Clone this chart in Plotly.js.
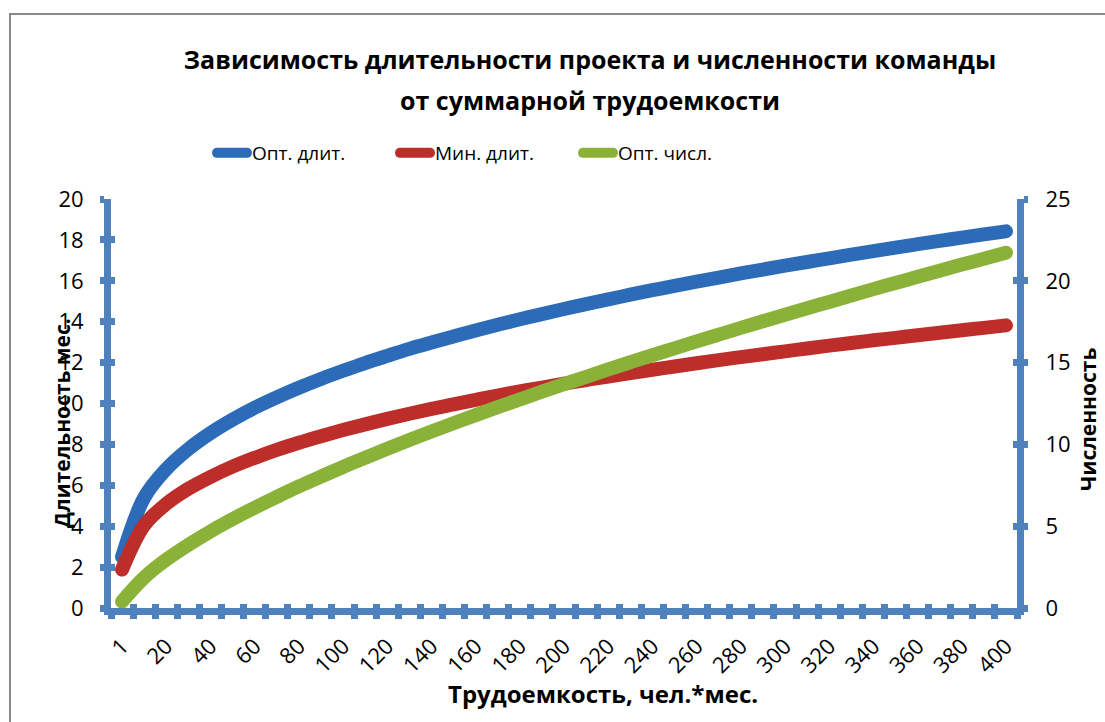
<!DOCTYPE html>
<html>
<head>
<meta charset="utf-8">
<script src="https://cdn.plot.ly/plotly-3.0.1.min.js"></script>
<style>
  html, body { margin: 0; padding: 0; background: #fff; }
  #wrap { position: relative; width: 1105px; height: 722px; overflow: hidden; }
  #chart { width: 1105px; height: 722px; }
  #frame { position: absolute; left: 9px; top: 13px; width: 1200px; height: 800px;
           border-left: 2px solid #8a8a8a; border-top: 2px solid #8a8a8a; pointer-events: none; }
  .js-line { stroke-linecap: round; stroke-linejoin: round; }
</style>
</head>
<body>
<div id="wrap"><div id="chart"></div><div id="frame"></div></div>
<script>
// Трудоемкость, чел.*мес. (categories)
const effort = ["1","10","20","30","40","50","60","70","80","90","100","110","120","130","140","150","160","170","180","190","200",
                "210","220","230","240","250","260","270","280","290","300","310","320","330","340","350","360","370","380","390","400"];
// Опт. длит. (months, left axis)
const optDur = [2.50,5.39,6.79,7.77,8.55,9.21,9.79,10.30,10.77,11.20,11.60,11.98,12.33,12.67,12.98,13.28,13.57,13.85,14.12,14.37,14.62,
                14.86,15.09,15.32,15.54,15.75,15.96,16.16,16.36,16.55,16.74,16.92,17.10,17.28,17.45,17.62,17.79,17.95,18.11,18.27,18.42];
// Мин. длит. (months, left axis)
const minDur = [1.88,4.04,5.09,5.83,6.41,6.91,7.34,7.73,8.08,8.40,8.70,8.98,9.25,9.50,9.74,9.96,10.18,10.39,10.59,10.78,10.97,
                11.15,11.32,11.49,11.65,11.81,11.97,12.12,12.27,12.41,12.55,12.69,12.83,12.96,13.09,13.21,13.34,13.46,13.58,13.70,13.82];
// Опт. числ. (people, right axis)
const optTeam = [0.40,1.86,2.95,3.86,4.68,5.43,6.13,6.79,7.43,8.03,8.62,9.18,9.73,10.27,10.79,11.29,11.79,12.28,12.75,13.22,13.68,
                 14.13,14.58,15.02,15.45,15.87,16.30,16.71,17.12,17.53,17.93,18.32,18.71,19.10,19.49,19.87,20.24,20.62,20.99,21.35,21.72];
const seriesNames = ["Опт. длит.", "Мин. длит.", "Опт. числ."];
const xLabels = effort.filter((c, i) => i % 2 === 0);
const leftTicks = [0,2,4,6,8,10,12,14,16,18,20];
const rightTicks = [0,5,10,15,20,25];
const titleLines = ["Зависимость длительности проекта и численности команды", "от суммарной трудоемкости"];

const FONT = "Open Sans, sans-serif";
const AXC = "#4f81bd";
const LW = 7;
const TL = 4;

// plot area in pixels (for placing annotations in paper units)
const W = 1105, H = 722, ML = 111, MR = 88, MT = 199, MB = 114;
const PW = W - ML - MR, PH = H - MT - MB;
const px = x => (x - ML) / PW;
const py = y => (H - MB - y) / PH;

const traces = [
  {x: effort, y: optDur, name: seriesNames[0], type: "scatter", mode: "lines",
   line: {color: "#2b6bb8", width: 14, shape: "spline", smoothing: 1}, yaxis: "y"},
  {x: effort, y: minDur, name: seriesNames[1], type: "scatter", mode: "lines",
   line: {color: "#bd2d2a", width: 14, shape: "spline", smoothing: 1}, yaxis: "y"},
  {x: effort, y: optTeam, name: seriesNames[2], type: "scatter", mode: "lines",
   line: {color: "#8bb238", width: 14, shape: "spline", smoothing: 1}, yaxis: "y2"},
  // empty helpers so the tick-only overlay axes are drawn
  {x: [], y: [], xaxis: "x2", yaxis: "y", showlegend: false, hoverinfo: "skip", type: "scatter"},
  {x: [], y: [], xaxis: "x3", yaxis: "y", showlegend: false, hoverinfo: "skip", type: "scatter"},
  {x: [], y: [], xaxis: "x", yaxis: "y3", showlegend: false, hoverinfo: "skip", type: "scatter"},
  {x: [], y: [], xaxis: "x", yaxis: "y4", showlegend: false, hoverinfo: "skip", type: "scatter"}
];

const nCat = effort.length;
const layout = {
  width: W, height: H,
  margin: {l: ML, r: MR, t: MT, b: MB},
  paper_bgcolor: "#fff", plot_bgcolor: "#fff",
  showlegend: true,
  font: {family: FONT, color: "#000"},
  title: {
    text: "<b>" + titleLines[0] + "</b>",
    font: {family: FONT, size: 25, color: "#000"},
    xref: "container", yref: "container", x: 590/W, y: 1 - 60/H, xanchor: "center", yanchor: "middle"
  },
  legend: {
    orientation: "h", xref: "container", yref: "container",
    x: 212/W, y: 1 - 134/H, xanchor: "left", yanchor: "top",
    entrywidth: 138, entrywidthmode: "pixels",
    font: {family: FONT, size: 19, color: "#000"}, itemwidth: 30
  },
  xaxis: {
    type: "category", range: [-0.5, nCat - 0.5],
    tickmode: "array", tickvals: xLabels, ticktext: xLabels, tickangle: -45,
    ticks: "", showline: false, showgrid: false, zeroline: false, ticklabelstandoff: 20,
    tickfont: {family: FONT, size: 22, color: "#000"}
  },
  xaxis2: {
    overlaying: "x", anchor: "y", side: "bottom", range: [-0.5, nCat - 0.5],
    tickmode: "linear", tick0: -0.5, dtick: 1, ticks: "outside", ticklen: TL, tickwidth: LW, tickcolor: AXC,
    showline: true, linewidth: LW, linecolor: AXC, showticklabels: false, showgrid: false, zeroline: false
  },
  xaxis3: {
    overlaying: "x", anchor: "y", side: "bottom", range: [-0.5, nCat - 0.5],
    tickmode: "linear", tick0: -0.5, dtick: 1, ticks: "inside", ticklen: TL, tickwidth: LW, tickcolor: AXC,
    showline: false, linewidth: LW, showticklabels: false, showgrid: false, zeroline: false
  },
  yaxis: {
    range: [0, 20], tickmode: "array", tickvals: leftTicks,
    ticks: "outside", ticklen: TL, tickwidth: LW, tickcolor: AXC,
    showline: true, linewidth: LW, linecolor: AXC, showgrid: false, zeroline: false,
    tickfont: {family: FONT, size: 22, color: "#000"}, ticklabelstandoff: 12
  },
  yaxis2: {
    overlaying: "y", side: "right", anchor: "x", range: [0, 25], tickmode: "array", tickvals: rightTicks,
    ticks: "outside", ticklen: TL, tickwidth: LW, tickcolor: AXC,
    showline: true, linewidth: LW, linecolor: AXC, showgrid: false, zeroline: false,
    tickfont: {family: FONT, size: 22, color: "#000"}, ticklabelstandoff: 13
  },
  yaxis3: {
    overlaying: "y", side: "left", anchor: "x", range: [0, 20], tickmode: "array", tickvals: leftTicks,
    ticks: "inside", ticklen: TL, tickwidth: LW, tickcolor: AXC, linewidth: LW,
    showline: false, showticklabels: false, showgrid: false, zeroline: false
  },
  yaxis4: {
    overlaying: "y", side: "right", anchor: "x", range: [0, 25], tickmode: "array", tickvals: rightTicks,
    ticks: "inside", ticklen: TL, tickwidth: LW, tickcolor: AXC, linewidth: LW,
    showline: false, showticklabels: false, showgrid: false, zeroline: false
  },
  annotations: [
    {text: "<b>" + titleLines[1] + "</b>", xref: "paper", yref: "paper", x: px(590), y: py(100),
     xanchor: "center", yanchor: "middle", showarrow: false,
     font: {family: FONT, size: 25, color: "#000"}},
    {text: "<b>Длительность мес.</b>", xref: "paper", yref: "paper", x: px(62), y: py(423),
     xanchor: "center", yanchor: "middle", textangle: -90, showarrow: false,
     font: {family: FONT, size: 21, color: "#000"}},
    {text: "<b>Численность</b>", xref: "paper", yref: "paper", x: px(1088), y: py(420),
     xanchor: "center", yanchor: "middle", textangle: -90, showarrow: false,
     font: {family: FONT, size: 21, color: "#000"}},
    {text: "<b>Трудоемкость, чел.*мес.</b>", xref: "paper", yref: "paper", x: px(603), y: py(693),
     xanchor: "center", yanchor: "middle", showarrow: false,
     font: {family: FONT, size: 24, color: "#000"}}
  ]
};

Plotly.newPlot("chart", traces, layout, {displayModeBar: false, staticPlot: true});
</script>
</body>
</html>
